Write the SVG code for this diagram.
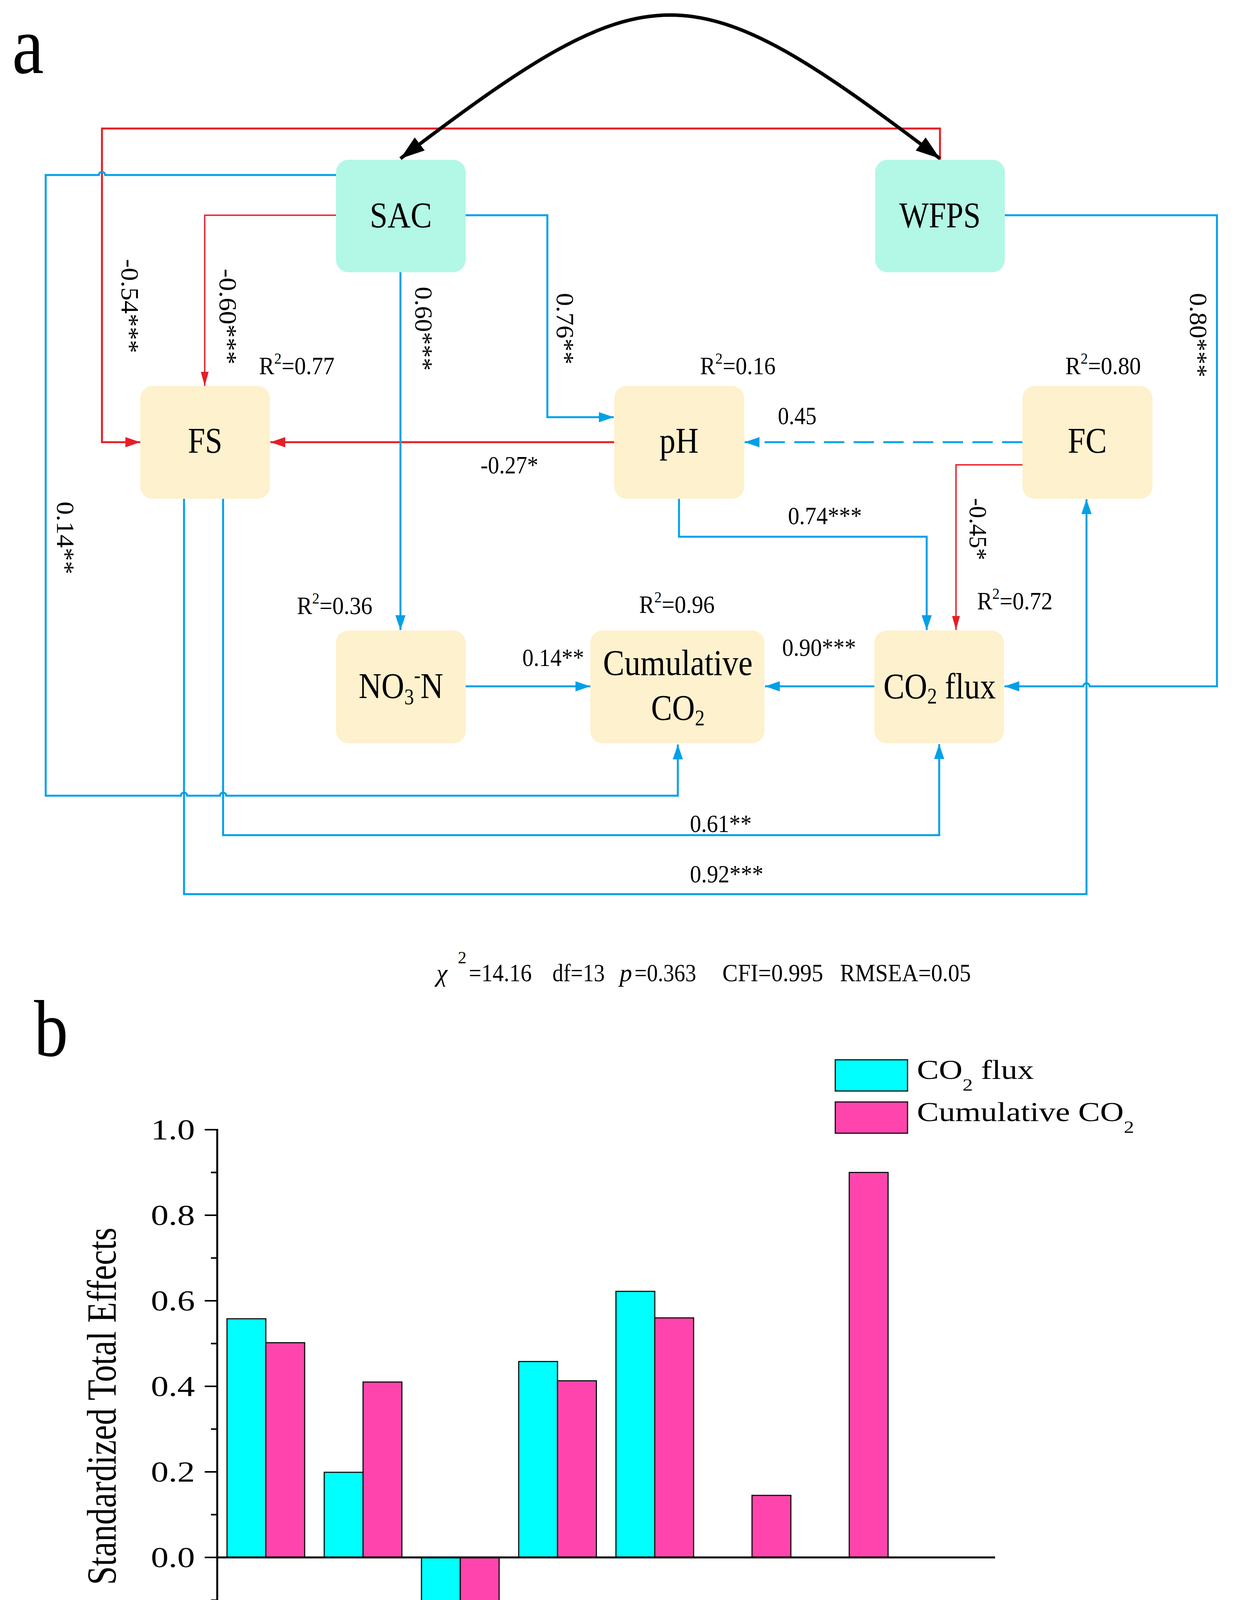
<svg xmlns="http://www.w3.org/2000/svg" width="3197" height="4697" viewBox="0 0 3197 4697">
<style>
.t{font-family:"Liberation Serif","Times New Roman",serif;fill:#000}
.nt{font-size:94px}
.el{font-size:63px}
.rl{font-size:64px}
.st{font-size:64px}
.bl{stroke:#00a0e9;stroke-width:5;fill:none}
.rd{stroke:#e61e25;stroke-width:5;fill:none}
.thin{stroke-width:3.5}
.mint{fill:#b3f7e6}
.cream{fill:#fef1cd}
.ax{stroke:#000;stroke-width:5;fill:none}
.tk{stroke:#000;stroke-width:4;fill:none}
.cy{fill:#00ffff;stroke:#111;stroke-width:3}
.pk{fill:#ff45ad;stroke:#111;stroke-width:3}
</style>
<defs>
<marker id="ab" markerUnits="userSpaceOnUse" viewBox="0 0 38 26" markerWidth="38" markerHeight="26" refX="38" refY="13" orient="auto"><path d="M0,0 L38,13 L0,26 Z" fill="#00a0e9"/></marker>
<marker id="ar" markerUnits="userSpaceOnUse" viewBox="0 0 38 26" markerWidth="38" markerHeight="26" refX="38" refY="13" orient="auto"><path d="M0,0 L38,13 L0,26 Z" fill="#e61e25"/></marker>
<marker id="ars" markerUnits="userSpaceOnUse" viewBox="0 0 36 20" markerWidth="36" markerHeight="20" refX="36" refY="10" orient="auto"><path d="M0,0 L36,10 L0,20 Z" fill="#e61e25"/></marker>
<marker id="ak" markerUnits="userSpaceOnUse" viewBox="0 0 62 42" markerWidth="62" markerHeight="42" refX="62" refY="21" orient="auto-start-reverse"><path d="M0,0 L62,21 L0,42 Z" fill="#000"/></marker>
</defs>
<rect x="0" y="0" width="3197" height="4697" fill="#fff"/>

<text class="t" transform="translate(31 187) scale(0.87 1)" font-size="210">a</text>

<g id="connectors">
<path class="rd" d="M2406,409 V329 H261 V1132 H359" marker-end="url(#ar)"/>
<path class="rd thin" d="M860,551 H524 V988" marker-end="url(#ars)"/>
<path class="rd" d="M1572,1132 H692" marker-end="url(#ar)"/>
<path class="rd thin" d="M2617,1190 H2447 V1613" marker-end="url(#ars)"/>
<path class="bl" d="M1192,551 H1401 V1068 H1571" marker-end="url(#ab)"/>
<path class="bl" d="M1025,697 V1613" marker-end="url(#ab)"/>
<path class="bl" d="M860,448 H269 A8,8 0 0 0 253,448 H117 V2037 H463 A8,8 0 0 1 479,2037 H563 A8,8 0 0 1 579,2037 H1735 V1906" marker-end="url(#ab)"/>
<path class="bl" d="M2617,1132 H1906" stroke-dasharray="52 24" marker-end="url(#ab)"/>
<path class="bl" d="M1738,1277 V1374 H2372 V1613" marker-end="url(#ab)"/>
<path class="bl" d="M2571,551 H3115 V1757 H2789 A8,8 0 0 0 2773,1757 H2571" marker-end="url(#ab)"/>
<path class="bl" d="M1192,1757 H1511" marker-end="url(#ab)"/>
<path class="bl" d="M2238,1757 H1958" marker-end="url(#ab)"/>
<path class="bl" d="M571,1277 V2138 H2404 V1905" marker-end="url(#ab)"/>
<path class="bl" d="M471,1277 V2289 H2781 V1278" marker-end="url(#ab)"/>
<path d="M1025,406 C1670,-84 1761,-84 2406,406" stroke="#000" stroke-width="9" fill="none" marker-start="url(#ak)" marker-end="url(#ak)"/>
</g>

<g id="edge-labels">
<text class="t rl" transform="translate(311 663) rotate(90)" textLength="241" lengthAdjust="spacingAndGlyphs">-0.54***</text>
<text class="t rl" transform="translate(562 688) rotate(90)" textLength="245" lengthAdjust="spacingAndGlyphs">-0.60***</text>
<text class="t rl" transform="translate(1063 734) rotate(90)" textLength="215" lengthAdjust="spacingAndGlyphs">0.60***</text>
<text class="t rl" transform="translate(1425 750) rotate(90)" textLength="183" lengthAdjust="spacingAndGlyphs">0.76**</text>
<text class="t rl" transform="translate(3046 750) rotate(90)" textLength="216" lengthAdjust="spacingAndGlyphs">0.80***</text>
<text class="t rl" transform="translate(146 1284) rotate(90)" textLength="186" lengthAdjust="spacingAndGlyphs">0.14**</text>
<text class="t rl" transform="translate(2482 1275) rotate(90)" textLength="159" lengthAdjust="spacingAndGlyphs">-0.45*</text>
<text class="t el" x="1230" y="1212" textLength="148" lengthAdjust="spacingAndGlyphs">-0.27*</text>
<text class="t el" x="1991" y="1086" textLength="99" lengthAdjust="spacingAndGlyphs">0.45</text>
<text class="t el" x="2017" y="1342" textLength="189" lengthAdjust="spacingAndGlyphs">0.74***</text>
<text class="t el" x="1337" y="1705" textLength="158" lengthAdjust="spacingAndGlyphs">0.14**</text>
<text class="t el" x="2002" y="1679" textLength="189" lengthAdjust="spacingAndGlyphs">0.90***</text>
<text class="t el" x="1766" y="2130" textLength="158" lengthAdjust="spacingAndGlyphs">0.61**</text>
<text class="t el" x="1766" y="2259" textLength="188" lengthAdjust="spacingAndGlyphs">0.92***</text>
<text class="t el" transform="translate(663 958) scale(0.93 1)">R<tspan font-size="40" dy="-27">2</tspan><tspan dy="27">=0.77</tspan></text>
<text class="t el" transform="translate(1792 958) scale(0.93 1)">R<tspan font-size="40" dy="-27">2</tspan><tspan dy="27">=0.16</tspan></text>
<text class="t el" transform="translate(2727 958) scale(0.93 1)">R<tspan font-size="40" dy="-27">2</tspan><tspan dy="27">=0.80</tspan></text>
<text class="t el" transform="translate(760 1572) scale(0.93 1)">R<tspan font-size="40" dy="-27">2</tspan><tspan dy="27">=0.36</tspan></text>
<text class="t el" transform="translate(1636 1569) scale(0.93 1)">R<tspan font-size="40" dy="-27">2</tspan><tspan dy="27">=0.96</tspan></text>
<text class="t el" transform="translate(2501 1560) scale(0.93 1)">R<tspan font-size="40" dy="-27">2</tspan><tspan dy="27">=0.72</tspan></text>
</g>

<g id="node-sac"><rect class="mint" x="860" y="409" width="332" height="288" rx="32"/><text class="t nt" x="1026" y="582" text-anchor="middle" textLength="159" lengthAdjust="spacingAndGlyphs">SAC</text></g>
<g id="node-wfps"><rect class="mint" x="2240" y="409" width="332" height="288" rx="32"/><text class="t nt" x="2406" y="582" text-anchor="middle" textLength="208" lengthAdjust="spacingAndGlyphs">WFPS</text></g>
<g id="node-fs"><rect class="cream" x="359" y="988" width="332" height="289" rx="32"/><text class="t nt" x="525" y="1159" text-anchor="middle" textLength="88" lengthAdjust="spacingAndGlyphs">FS</text></g>
<g id="node-ph"><rect class="cream" x="1572" y="988" width="333" height="289" rx="32"/><text class="t nt" x="1738" y="1159" text-anchor="middle" textLength="100" lengthAdjust="spacingAndGlyphs">pH</text></g>
<g id="node-fc"><rect class="cream" x="2617" y="988" width="333" height="289" rx="32"/><text class="t nt" x="2783" y="1159" text-anchor="middle" textLength="100" lengthAdjust="spacingAndGlyphs">FC</text></g>
<g id="node-no3"><rect class="cream" x="860" y="1614" width="332" height="289" rx="32"/><text class="t nt" transform="translate(918 1787) scale(0.86 1)">NO<tspan font-size="58" dy="16">3</tspan><tspan font-size="58" dy="-56">-</tspan><tspan dy="40">N</tspan></text></g>
<g id="node-cumulative"><rect class="cream" x="1511" y="1614" width="446" height="289" rx="32"/><text class="t nt" x="1735" y="1728" text-anchor="middle" textLength="383" lengthAdjust="spacingAndGlyphs">Cumulative</text><text class="t nt" transform="translate(1735 1843) scale(0.86 1)" text-anchor="middle">CO<tspan font-size="58" dy="14">2</tspan></text></g>
<g id="node-co2flux"><rect class="cream" x="2238" y="1614" width="332" height="289" rx="32"/><text class="t nt" transform="translate(2405 1788) scale(0.86 1)" text-anchor="middle">CO<tspan font-size="58" dy="13">2</tspan><tspan dy="-13"> flux</tspan></text></g>

<g id="fit-stats">
<text class="t st" x="1117" y="2512" font-style="italic">χ</text>
<text class="t" x="1172" y="2466" font-size="44">2</text>
<text class="t st" x="1200" y="2512" textLength="161" lengthAdjust="spacingAndGlyphs">=14.16</text>
<text class="t st" x="1414" y="2512" textLength="134" lengthAdjust="spacingAndGlyphs">df=13</text>
<text class="t st" x="1586" y="2512" font-style="italic">p</text>
<text class="t st" x="1624" y="2512" textLength="158" lengthAdjust="spacingAndGlyphs">=0.363</text>
<text class="t st" x="1849" y="2512" textLength="258" lengthAdjust="spacingAndGlyphs">CFI=0.995</text>
<text class="t st" x="2150" y="2512" textLength="335" lengthAdjust="spacingAndGlyphs">RMSEA=0.05</text>
</g>

<text class="t" transform="translate(87 2703) scale(0.85 1)" font-size="205">b</text>

<g id="chart">
<rect class="cy" x="581" y="3376" width="99.4" height="611"/>
<rect class="pk" x="680.4" y="3437.3" width="99.4" height="549.7"/>
<rect class="cy" x="829.9" y="3769.1" width="99.4" height="217.9"/>
<rect class="pk" x="929.3" y="3538" width="99.4" height="449"/>
<rect class="cy" x="1078.8" y="3987" width="99.4" height="178.5"/>
<rect class="pk" x="1178.2" y="3987" width="99.4" height="161"/>
<rect class="cy" x="1327.7" y="3485.5" width="99.4" height="501.5"/>
<rect class="pk" x="1427.1" y="3534.8" width="99.4" height="452.2"/>
<rect class="cy" x="1576.6" y="3305.9" width="99.4" height="681.1"/>
<rect class="pk" x="1676" y="3373.8" width="99.4" height="613.2"/>
<rect class="pk" x="1924.9" y="3828.2" width="99.4" height="158.8"/>
<rect class="pk" x="2173.8" y="3001.5" width="99.4" height="985.5"/>
<path class="ax" d="M556,3987 H2547"/>
<path class="ax" d="M556,2890 V4317 H2547"/>
<path class="tk" d="M524,2892 H556 M524,3111 H556 M524,3330 H556 M524,3549 H556 M524,3768 H556 M524,3987 H556 M524,4206 H556 M540,3001.5 H556 M540,3220.5 H556 M540,3439.5 H556 M540,3658.5 H556 M540,3877.5 H556 M540,4096.5 H556 M540,4315.5 H556"/>
<path class="tk" d="M680.4,4317 V4345 M929.3,4317 V4345 M1178.2,4317 V4345 M1427.1,4317 V4345 M1676,4317 V4345 M1924.9,4317 V4345 M2173.8,4317 V4345 M2422.6,4317 V4345 M556,4317 V4331 M804.9,4317 V4331 M1053.8,4317 V4331 M1302.7,4317 V4331 M1551.6,4317 V4331 M1800.4,4317 V4331 M2049.3,4317 V4331 M2298.2,4317 V4331 M2547,4317 V4331"/>
<g font-size="74">
<text class="t" transform="translate(499 2917) scale(1.22 1)" text-anchor="end">1.0</text>
<text class="t" transform="translate(499 3136) scale(1.22 1)" text-anchor="end">0.8</text>
<text class="t" transform="translate(499 3355) scale(1.22 1)" text-anchor="end">0.6</text>
<text class="t" transform="translate(499 3574) scale(1.22 1)" text-anchor="end">0.4</text>
<text class="t" transform="translate(499 3793) scale(1.22 1)" text-anchor="end">0.2</text>
<text class="t" transform="translate(499 4012) scale(1.22 1)" text-anchor="end">0.0</text>
<text class="t" transform="translate(499 4231) scale(1.22 1)" text-anchor="end">-0.2</text>
</g>
<text class="t" transform="translate(296 3600) scale(1.22 1) rotate(-90)" text-anchor="middle" font-size="86.7">Standardized Total Effects</text>
<g font-size="82">
<text class="t" transform="translate(790 4434) scale(1.22 1) rotate(-45)" text-anchor="end">WFPS</text>
<text class="t" transform="translate(1039 4434) scale(1.22 1) rotate(-45)" text-anchor="end">SAC</text>
<text class="t" transform="translate(1288 4434) scale(1.22 1) rotate(-45)" text-anchor="end">FC</text>
<text class="t" transform="translate(1537 4434) scale(1.22 1) rotate(-45)" text-anchor="end">FS</text>
<text class="t" transform="translate(1786 4434) scale(1.22 1) rotate(-45)" text-anchor="end">pH</text>
<text class="t" transform="translate(2035 4434) scale(1.22 1) rotate(-45)" text-anchor="end">NO<tspan font-size="52" dy="14">3</tspan><tspan font-size="52" dy="-50">-</tspan></text>
<text class="t" transform="translate(2284 4434) scale(1.22 1) rotate(-45)" text-anchor="end">CO<tspan font-size="52" dy="14">2</tspan><tspan dy="-14"> flux</tspan></text>
</g>
<g id="legend">
<rect class="cy" x="2138" y="2713" width="185" height="80"/>
<rect class="pk" x="2138" y="2821" width="185" height="80"/>
<text class="t" transform="translate(2347 2762) scale(1.2 1)" font-size="70">CO<tspan font-size="44" dy="30">2</tspan><tspan dy="-30"> flux</tspan></text>
<text class="t" transform="translate(2347 2870) scale(1.2 1)" font-size="70">Cumulative CO<tspan font-size="44" dy="30">2</tspan></text>
</g>
</g>
</svg>
